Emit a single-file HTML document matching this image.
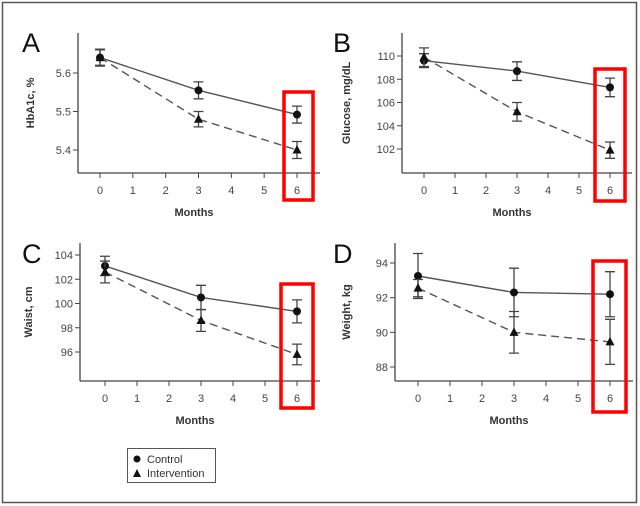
<!DOCTYPE html>
<html><head><meta charset="utf-8"><style>
html,body{margin:0;padding:0;background:#fff}
svg{display:block;font-family:"Liberation Sans",Arial,sans-serif}
</style></head><body>
<svg id="chart" width="640" height="506" viewBox="0 0 640 506">
<rect x="2.5" y="2.5" width="634" height="500" fill="#fff" stroke="#555" stroke-width="1.5"/>
<g>
<rect x="127.5" y="448.5" width="88" height="34" fill="#fff" stroke="#555" stroke-width="1"/>
<circle cx="137" cy="459" r="3.5" fill="#111"/>
<text x="147" y="463" font-size="11" fill="#333">Control</text>
<polygon points="137,469 141,477 133,477" fill="#111"/>
<text x="147" y="477" font-size="11" fill="#333">Intervention</text>
</g>
</svg>
<script>
const months = [0, 3, 6];
const xTicks = [0, 1, 2, 3, 4, 5, 6];
// Panel A: HbA1c
const hbaControl = [5.64, 5.555, 5.492];
const hbaControlErr = [0.02, 0.022, 0.022];
const hbaInterv = [5.64, 5.48, 5.40];
const hbaIntervErr = [0.022, 0.02, 0.022];
const hbaTicks = [5.4, 5.5, 5.6];
// Panel B: Glucose
const gluControl = [109.6, 108.7, 107.3];
const gluControlErr = [0.6, 0.8, 0.8];
const gluInterv = [109.9, 105.2, 101.9];
const gluIntervErr = [0.8, 0.8, 0.7];
const gluTicks = [102, 104, 106, 108, 110];
// Panel C: Waist
const waiControl = [103.1, 100.5, 99.35];
const waiControlErr = [0.8, 1.0, 0.95];
const waiInterv = [102.6, 98.6, 95.8];
const waiIntervErr = [0.9, 0.9, 0.85];
const waiTicks = [96, 98, 100, 102, 104];
// Panel D: Weight
const weiControl = [93.25, 92.3, 92.2];
const weiControlErr = [1.3, 1.4, 1.3];
const weiInterv = [92.55, 90.0, 89.45];
const weiIntervErr = [0.5, 1.2, 1.3];
const weiTicks = [88, 90, 92, 94];

const NS = 'http://www.w3.org/2000/svg';
const svg = document.getElementById('chart');
function mk(tag, attrs, parent) {
  const e = document.createElementNS(NS, tag);
  for (const k in attrs) e.setAttribute(k, attrs[k]);
  (parent || svg).appendChild(e);
  return e;
}
function panel(cfg) {
  const g = mk('g', {});
  
  
  const xs = m => cfg.x0 + (m - 0) * (cfg.x6 - cfg.x0) / 6;
  const ys = v => cfg.yA + (v - cfg.vA) * (cfg.yB - cfg.yA) / (cfg.vB - cfg.vA);
  // axes
  const ya = mk('line', {x1: cfg.ax, y1: cfg.top, x2: cfg.ax, y2: cfg.base, stroke: '#444', 'stroke-width': 1.3}, g);
  
  
  const xa = mk('line', {x1: cfg.ax, y1: cfg.base, x2: cfg.right, y2: cfg.base, stroke: '#444', 'stroke-width': 1.3}, g);
  
  
  xTicks.forEach(t => {
    mk('line', {x1: xs(t), y1: cfg.base, x2: xs(t), y2: cfg.base + 5, stroke: '#444', 'stroke-width': 1}, g);
    const tx = mk('text', {x: xs(t), y: cfg.base + 21, 'font-size': 11, fill: '#444', 'text-anchor': 'middle'}, g);
    tx.textContent = t;
    
    
  });
  cfg.ticks.forEach(t => {
    mk('line', {x1: cfg.ax - 5, y1: ys(t), x2: cfg.ax, y2: ys(t), stroke: '#444', 'stroke-width': 1}, g);
    const tx = mk('text', {x: cfg.ax - 7, y: ys(t) + 4, 'font-size': 11, fill: '#444', 'text-anchor': 'end'}, g);
    tx.textContent = cfg.fmt ? t.toFixed(1) : t;
    
    
  });
  const xl = mk('text', {x: (cfg.ax + cfg.right) / 2 - 5, y: cfg.base + 43, 'font-size': 11, 'font-weight': 'bold', fill: '#333', 'text-anchor': 'middle'}, g);
  xl.textContent = 'Months';
  
  
  const yl = mk('text', {x: 0, y: 0, 'font-size': 11, 'font-weight': 'bold', fill: '#333', 'text-anchor': 'middle', transform: `translate(${cfg.ylx},${(cfg.top + cfg.base) / 2}) rotate(-90)`}, g);
  yl.textContent = cfg.ytitle;
  
  
  const lt = mk('text', {x: cfg.lx, y: cfg.ly, 'font-size': 27, fill: '#111'}, g);
  lt.textContent = cfg.letter;
  
  
  // series
  [[cfg.c, cfg.ce, 'control', null], [cfg.i, cfg.ie, 'intervention', '8,5']].forEach(([vals, errs, nm, dash]) => {
    const pts = months.map((m, k) => xs(m) + ',' + ys(vals[k])).join(' ');
    const pl = mk('polyline', {points: pts, fill: 'none', stroke: '#555', 'stroke-width': 1.4}, g);
    if (dash) pl.setAttribute('stroke-dasharray', dash);
    
    
    months.forEach((m, k) => {
      const x = xs(m), y = ys(vals[k]), y1 = ys(vals[k] - errs[k]), y2 = ys(vals[k] + errs[k]);
      const eb = mk('path', {d: `M${x},${y1}V${y2}M${x - 5},${y1}H${x + 5}M${x - 5},${y2}H${x + 5}`, stroke: '#444', 'stroke-width': 1.3, fill: 'none'}, g);
      
      
      let mkEl;
      if (nm === 'control') mkEl = mk('circle', {cx: x, cy: y, r: 4, fill: '#111'}, g);
      else mkEl = mk('polygon', {points: `${x},${y - 5} ${x + 4.5},${y + 3.5} ${x - 4.5},${y + 3.5}`, fill: '#111'}, g);
      
      
    });
  });
  const rb = mk('rect', {x: cfg.rb[0], y: cfg.rb[1], width: cfg.rb[2], height: cfg.rb[3], fill: 'none', stroke: '#f00', 'stroke-width': 3.5}, g);
  
  
}
panel({letter: 'A', ytitle: 'HbA1c, %', ax: 78, top: 33, base: 173, right: 320, x0: 100, x6: 297,
  vA: 5.6, yA: 73, vB: 5.4, yB: 150, ticks: hbaTicks, fmt: true, ylx: 34, lx: 22, ly: 52,
  c: hbaControl, ce: hbaControlErr, i: hbaInterv, ie: hbaIntervErr, rb: [284, 92, 29, 108]});
panel({letter: 'B', ytitle: 'Glucose, mg/dL', ax: 402, top: 33, base: 173, right: 632, x0: 424, x6: 610,
  vA: 110, yA: 56, vB: 102, yB: 149, ticks: gluTicks, ylx: 350, lx: 333, ly: 52,
  c: gluControl, ce: gluControlErr, i: gluInterv, ie: gluIntervErr, rb: [595, 69, 30, 132]});
panel({letter: 'C', ytitle: 'Waist, cm', ax: 80, top: 243, base: 381, right: 320, x0: 105, x6: 297,
  vA: 104, yA: 255, vB: 96, yB: 352, ticks: waiTicks, ylx: 32, lx: 22, ly: 263,
  c: waiControl, ce: waiControlErr, i: waiInterv, ie: waiIntervErr, rb: [281, 284, 32, 124]});
panel({letter: 'D', ytitle: 'Weight, kg', ax: 395, top: 243, base: 381, right: 633, x0: 418, x6: 610,
  vA: 94, yA: 263, vB: 88, yB: 367, ticks: weiTicks, ylx: 350, lx: 333, ly: 263,
  c: weiControl, ce: weiControlErr, i: weiInterv, ie: weiIntervErr, rb: [593, 261, 33, 151]});
</script>
</body></html>
